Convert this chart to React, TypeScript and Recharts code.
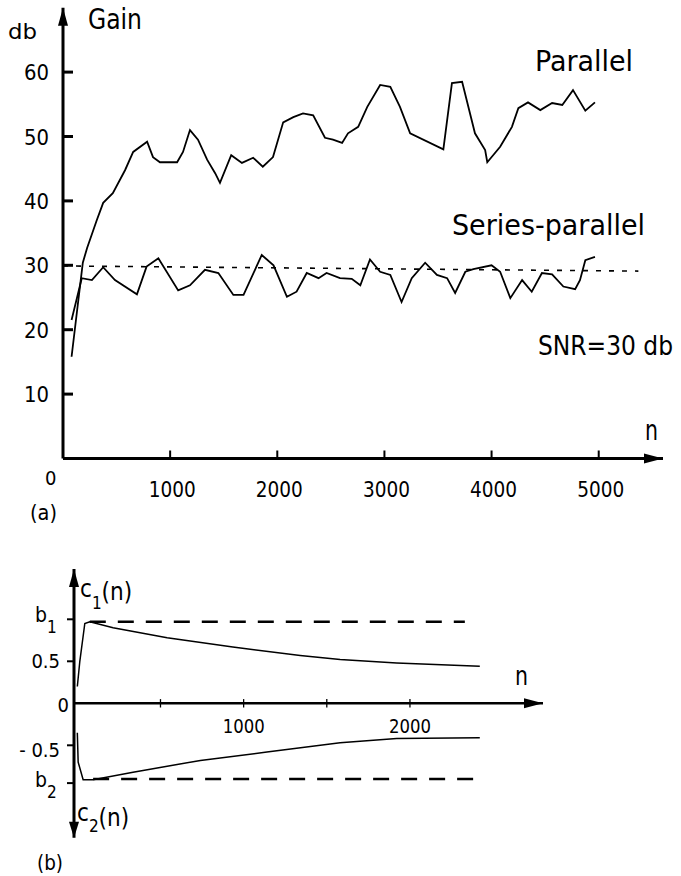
import { LineChart, Line, XAxis, YAxis, ReferenceLine, ReferenceDot } from 'recharts'

const FONT = "'DejaVu Sans Condensed', 'Liberation Sans Narrow', 'DejaVu Sans', sans-serif"

// (a) gain in db against n
const parallelN = [80, 185, 225, 315, 375, 465, 580, 655, 785, 840, 905, 1065, 1120, 1185, 1260, 1345, 1420, 1465, 1570, 1670, 1775, 1865, 1960, 2055, 2150, 2240, 2335, 2445, 2520, 2605, 2660, 2755, 2840, 2960, 3055, 3145, 3240, 3550, 3630, 3725, 3845, 3940, 3960, 4080, 4190, 4250, 4340, 4455, 4565, 4660, 4760, 4875, 4965]
const parallelGain = [15.8, 30.4, 32.7, 37, 39.7, 41.2, 44.8, 47.6, 49.2, 46.8, 46, 46, 47.6, 51, 49.5, 46.4, 44.3, 42.8, 47.1, 45.9, 46.7, 45.3, 46.8, 52.2, 53, 53.6, 53.3, 49.8, 49.5, 49, 50.5, 51.5, 54.6, 58, 57.7, 54.6, 50.5, 48, 58.3, 58.5, 50.5, 47.9, 46, 48.4, 51.5, 54.4, 55.3, 54.1, 55.2, 54.9, 57.2, 54, 55.3]
const seriesN = [80, 175, 270, 375, 485, 690, 780, 890, 1075, 1185, 1325, 1450, 1590, 1685, 1855, 1965, 2090, 2180, 2275, 2385, 2460, 2585, 2695, 2775, 2865, 2960, 3055, 3160, 3255, 3380, 3490, 3585, 3660, 3755, 3830, 4000, 4080, 4175, 4285, 4375, 4470, 4565, 4670, 4780, 4825, 4875, 4965]
const seriesGain = [21.5, 28, 27.7, 29.7, 27.7, 25.5, 29.8, 31.1, 26.1, 26.9, 29.3, 28.8, 25.4, 25.4, 31.6, 30, 25.1, 25.9, 28.8, 28, 28.8, 28, 27.9, 26.9, 30.9, 29, 28.5, 24.3, 28, 30.4, 28.5, 28, 25.7, 29, 29.4, 30, 29, 24.9, 27.7, 25.9, 28.8, 28.6, 26.7, 26.3, 27.7, 30.8, 31.3]
const snrN = [0, 5370]
const snrGain = [29.9, 29.1]
const gainTicks = [10, 20, 30, 40, 50, 60]
const nTicksA = [1000, 2000, 3000, 4000, 5000]

// (b) coefficients c1(n), c2(n)
const c1N = [0, 15, 45, 75, 215, 540, 935, 1340, 1580, 1920, 2420]
const c1Val = [0.2, 0.5, 0.95, 0.97, 0.9, 0.78, 0.67, 0.57, 0.52, 0.48, 0.44]
const c2N = [0, 5, 35, 95, 335, 740, 1140, 1580, 1920, 2420]
const c2Val = [-0.35, -0.7, -0.91, -0.91, -0.82, -0.68, -0.58, -0.47, -0.42, -0.41]
const b1Level = 0.97
const b2Level = -0.9
const b1N = [75, 2330]
const b2N = [95, 2420]
const coefTicks = [1.0, 0.5, 0, -0.5, -0.95]
const coefTickLabels = ['b1', '0.5', '0', '-0.5', 'b2']
const nTicksB = [500, 1000, 1500, 2000]
const nLabelsB = [1000, 2000]

const rightArrow = (p: any) => (
  <path d={`M${p.cx},${p.cy} L${p.cx - 19},${p.cy - 5} L${p.cx - 19},${p.cy + 5} Z`} fill="#000" />
)
const upArrow = (p: any) => (
  <path d={`M${p.cx},${p.cy} L${p.cx - 5},${p.cy + 18} L${p.cx + 5},${p.cy + 18} Z`} fill="#000" />
)
const downArrow = (p: any) => (
  <path d={`M${p.cx},${p.cy} L${p.cx - 5},${p.cy - 16} L${p.cx + 5},${p.cy - 16} Z`} fill="#000" />
)

function GainXTick(props: any) {
  const { x, y, payload } = props
  return (
    <g>
      <line x1={x} y1={y} x2={x} y2={y - 8} stroke="#000" strokeWidth={2} />
      <text x={x + 2} y={y + 38} textAnchor="middle" fontSize={22} fontFamily={FONT} textLength={47} lengthAdjust="spacingAndGlyphs" fill="#000">
        {payload.value}
      </text>
    </g>
  )
}

function GainYTick(props: any) {
  const { x, y, payload } = props
  return (
    <g>
      <line x1={x} y1={y} x2={x + 10} y2={y} stroke="#000" strokeWidth={3} />
      <text x={x - 14} y={y + 8} textAnchor="end" fontSize={22} fontFamily={FONT} textLength={25} lengthAdjust="spacingAndGlyphs" fill="#000">
        {payload.value}
      </text>
    </g>
  )
}

function CoefYTick(props: any) {
  const { x, y, payload, index } = props
  const label = coefTickLabels[index]
  if (label === '0') {
    return (
      <text x={x - 5} y={y + 9} textAnchor="end" fontSize={20} fontFamily={FONT} fill="#000">0</text>
    )
  }
  const tick = <line x1={x} y1={y} x2={x - 7} y2={y} stroke="#000" strokeWidth={2} />
  if (label.startsWith('b')) {
    return (
      <g>
        {tick}
        <text x={x - 39} y={y + (payload.value > 0 ? 3 : 4)} fontSize={21} fontFamily={FONT} fill="#000">
          b<tspan dy={11} fontSize={17}>{label[1]}</tspan>
        </text>
      </g>
    )
  }
  return (
    <g>
      {tick}
      <text x={x - 14} y={y + 7 + (payload.value < 0 ? 5 : 0)} textAnchor="end" fontSize={20} fontFamily={FONT} fill="#000">
        {label.replace('-', '- ')}
      </text>
    </g>
  )
}

export default function App() {
  const parallel = parallelN.map((n, i) => ({ n, gain: parallelGain[i] }))
  const series = seriesN.map((n, i) => ({ n, gain: seriesGain[i] }))
  const c1 = c1N.map((n, i) => ({ n, c: c1Val[i] }))
  const c2 = c2N.map((n, i) => ({ n, c: c2Val[i] }))

  return (
    <div style={{ position: 'absolute', left: 0, top: 0, width: 681, height: 876, background: '#fff', fontFamily: FONT }}>
      {/* (a) */}
      <div style={{ position: 'absolute', left: 0, top: 0 }}>
        <LineChart width={681} height={540} margin={{ top: 7.7, right: 18, left: 3, bottom: 51.5 }}>
          <XAxis
            type="number"
            dataKey="n"
            domain={[0, 5600]}
            ticks={nTicksA}
            interval={0}
            allowDataOverflow
            height={30}
            axisLine={{ stroke: '#000', strokeWidth: 3 }}
            tickLine={false}
            tickSize={0}
            tickMargin={0}
            tick={(p: any) => <GainXTick {...p} />}
          />
          <YAxis
            type="number"
            domain={[0, 70]}
            ticks={gainTicks}
            interval={0}
            allowDataOverflow
            width={60}
            axisLine={{ stroke: '#000', strokeWidth: 3 }}
            tickLine={false}
            tickSize={0}
            tickMargin={0}
            tick={(p: any) => <GainYTick {...p} />}
          />
          <ReferenceLine
            segment={[{ x: snrN[0], y: snrGain[0] }, { x: snrN[1], y: snrGain[1] }]}
            stroke="#000"
            strokeWidth={1.6}
            strokeDasharray="5 8"
            ifOverflow="visible"
          />
          <Line data={parallel} dataKey="gain" type="linear" stroke="#000" strokeWidth={1.8} dot={false} isAnimationActive={false} />
          <Line data={series} dataKey="gain" type="linear" stroke="#000" strokeWidth={1.8} dot={false} isAnimationActive={false} />
          <ReferenceDot x={5600} y={0} r={0} ifOverflow="visible" shape={rightArrow} />
          <ReferenceDot x={0} y={70} r={0} ifOverflow="visible" shape={upArrow} />
        </LineChart>
      </div>

      {/* (b) */}
      <div style={{ position: 'absolute', left: 0, top: 540 }}>
        <LineChart width={681} height={336} margin={{ top: 28.9, right: 138, left: 14, bottom: 38.3 }}>
          <XAxis type="number" dataKey="n" domain={[-20, 2800]} allowDataOverflow hide />
          <YAxis
            type="number"
            domain={[-1.6, 1.6]}
            ticks={coefTicks}
            interval={0}
            allowDataOverflow
            width={60}
            axisLine={{ stroke: '#000', strokeWidth: 3 }}
            tickLine={false}
            tickSize={0}
            tickMargin={0}
            tick={(p: any) => <CoefYTick {...p} />}
          />
          <ReferenceLine y={0} stroke="#000" strokeWidth={2.5} />
          {nTicksB.map((t) => (
            <ReferenceLine key={t} segment={[{ x: t, y: -0.05 }, { x: t, y: 0.05 }]} stroke="#000" strokeWidth={1.3} />
          ))}
          {nLabelsB.map((t) => (
            <ReferenceDot
              key={'l' + t}
              x={t}
              y={0}
              r={0}
              ifOverflow="visible"
              shape={(p: any) => (
                <text x={p.cx} y={p.cy + 30} textAnchor="middle" fontSize={20} fontFamily={FONT} textLength={42} lengthAdjust="spacingAndGlyphs" fill="#000">
                  {t}
                </text>
              )}
            />
          ))}
          <ReferenceLine
            segment={[{ x: b1N[0], y: b1Level }, { x: b1N[1], y: b1Level }]}
            stroke="#000"
            strokeWidth={2.5}
            strokeDasharray="16 12"
          />
          <ReferenceLine
            segment={[{ x: b2N[0], y: b2Level }, { x: b2N[1], y: b2Level }]}
            stroke="#000"
            strokeWidth={2.5}
            strokeDasharray="16 12"
          />
          <Line data={c1} dataKey="c" type="linear" stroke="#000" strokeWidth={1.5} dot={false} isAnimationActive={false} />
          <Line data={c2} dataKey="c" type="linear" stroke="#000" strokeWidth={1.5} dot={false} isAnimationActive={false} />
          <ReferenceDot x={2800} y={0} r={0} ifOverflow="visible" shape={rightArrow} />
          <ReferenceDot x={-20} y={1.6} r={0} ifOverflow="visible" shape={upArrow} />
          <ReferenceDot x={-20} y={-1.6} r={0} ifOverflow="visible" shape={downArrow} />
        </LineChart>
      </div>

      {/* annotations */}
      <svg width={681} height={876} style={{ position: 'absolute', left: 0, top: 0, pointerEvents: 'none' }} fontFamily={FONT} fill="#000">
        <text x={88} y={29} fontSize={28} textLength={54} lengthAdjust="spacingAndGlyphs">Gain</text>
        <text x={8} y={39} fontSize={21} textLength={29} lengthAdjust="spacingAndGlyphs">db</text>
        <text x={535} y={71} fontSize={28} textLength={98} lengthAdjust="spacingAndGlyphs">Parallel</text>
        <text x={452} y={235} fontSize={28} textLength={193} lengthAdjust="spacingAndGlyphs">Series-parallel</text>
        <text x={538} y={355} fontSize={27} textLength={135} lengthAdjust="spacingAndGlyphs">SNR=30 db</text>
        <text x={645} y={440} fontSize={28} textLength={13} lengthAdjust="spacingAndGlyphs">n</text>
        <text x={45} y={485} fontSize={20}>0</text>
        <text x={30} y={520} fontSize={21} textLength={27} lengthAdjust="spacingAndGlyphs">(a)</text>
        <text x={80} y={597} fontSize={24}>
          c<tspan dy={12} fontSize={17}>1</tspan><tspan dy={-9}>(n)</tspan>
        </text>
        <text x={77} y={821} fontSize={24}>
          c<tspan dy={11} fontSize={17}>2</tspan><tspan dy={-6}>(n)</tspan>
        </text>
        <text x={515} y={685} fontSize={26} textLength={13} lengthAdjust="spacingAndGlyphs">n</text>
        <text x={37} y={870} fontSize={21} textLength={26} lengthAdjust="spacingAndGlyphs">(b)</text>
      </svg>
    </div>
  )
}
